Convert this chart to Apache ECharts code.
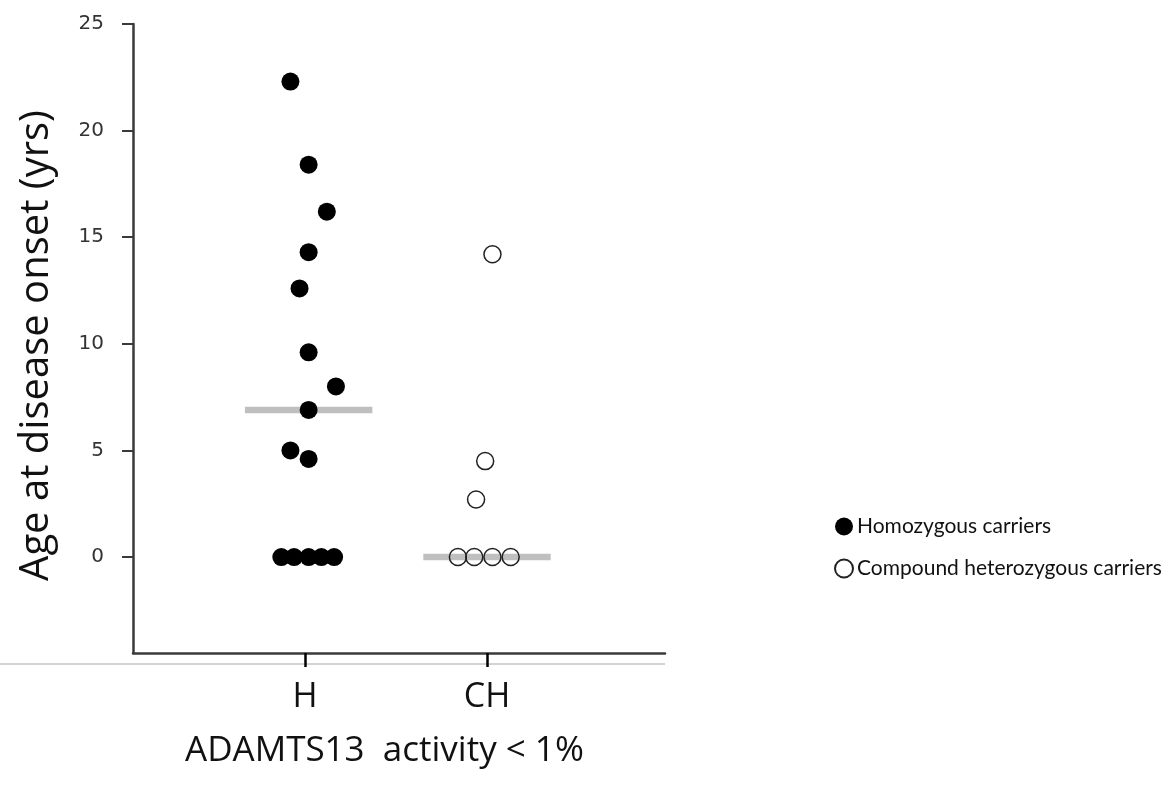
<!DOCTYPE html>
<html style="height: 100%">
  <head>
    <meta charset="utf-8">
  </head>
  <body style="height: 100%; margin: 0; background: #fff">
    <div id="container" style="width: 1170px; height: 794px"></div>
    <script src="https://cdn.jsdelivr.net/npm/echarts@6/dist/echarts.min.js"></script>
    <script type="text/javascript">
      // groups on the x axis
      let groups = ['H', 'CH'];
      let groupPos = [1, 2];

      // age at onset (yrs), and horizontal jitter of each dot
      let hAge = [22.3, 18.4, 16.2, 14.3, 12.6, 9.6, 8.0, 6.9, 5.0, 4.6, 0, 0, 0, 0, 0];
      let hJitter = [-0.08, 0.02, 0.12, 0.02, -0.03, 0.02, 0.17, 0.02, -0.08, 0.02, -0.13, -0.06, 0.02, 0.09, 0.16];
      let chAge = [14.2, 4.5, 2.7, 0, 0, 0, 0];
      let chJitter = [0.03, -0.01, -0.06, -0.16, -0.07, 0.03, 0.13];

      // group medians
      let medians = [6.9, 0];
      let medianHalfWidth = 0.35;
      let medianShift = [0.02, 0];

      let yTicks = [0, 5, 10, 15, 20, 25];

      let dom = document.getElementById('container');
      let myChart = echarts.init(dom);

      function points(ages, jitter, pos) {
        return ages.map(function (a, i) {
          return [pos + jitter[i], a];
        });
      }

      let medianSeries = medians.map(function (m, i) {
        let c = groupPos[i] + medianShift[i];
        return {
          type: 'line',
          data: [[c - medianHalfWidth, m], [c + medianHalfWidth, m]],
          symbol: 'none',
          lineStyle: { color: '#bfbfbf', width: 6.5 },
          silent: true,
          z: 1
        };
      });

      let option = {
        animation: false,
        grid: { left: 133, right: 505, top: 24, bottom: 141 },
        xAxis: {
          type: 'value',
          min: 0.055,
          max: 2.978,
          splitLine: { show: false },
          axisLine: { show: true, onZero: false, lineStyle: { color: '#3a3a3a', width: 2.5 } },
          axisTick: {
            show: true, inside: false, length: 14,
            customValues: groupPos,
            lineStyle: { color: '#000', width: 2.5 }
          },
          axisLabel: {
            customValues: groupPos,
            margin: 27,
            fontFamily: 'Open Sans',
            fontSize: 34,
            color: '#111',
            formatter: function (v) {
              let i = groupPos.indexOf(Math.round(v));
              return i >= 0 ? groups[i] : '';
            }
          }
        },
        yAxis: {
          type: 'value',
          min: -4.5,
          max: 25,
          splitLine: { show: false },
          axisLine: { show: true, onZero: false, lineStyle: { color: '#3a3a3a', width: 2.5 } },
          axisTick: {
            show: true, inside: false, length: 11,
            customValues: yTicks,
            lineStyle: { color: '#3a3a3a', width: 2 }
          },
          axisLabel: {
            customValues: yTicks,
            margin: 29,
            fontFamily: 'DejaVu Sans',
            fontSize: 20,
            color: '#333'
          },
          name: 'Age at disease onset (yrs)',
          nameLocation: 'middle',
          nameGap: 76,
          nameTextStyle: { fontFamily: 'Open Sans', fontSize: 40, color: '#111', padding: [0, 0, 0, -14] }
        },
        legend: {
          orient: 'vertical',
          left: 829,
          top: 511,
          itemWidth: 18,
          itemHeight: 18,
          itemGap: 21,
          icon: 'circle',
          data: ['Homozygous carriers', 'Compound heterozygous carriers'],
          textStyle: { fontFamily: 'Lato', fontSize: 21, color: '#111', padding: [0, 0, 0, -1] }
        },
        graphic: [
          {
            type: 'line',
            shape: { x1: 0, y1: 664, x2: 665, y2: 664 },
            style: { stroke: '#c4c4c4', lineWidth: 1.5 },
            z: 0
          },
          {
            type: 'text',
            left: 185,
            top: 734,
            style: {
              text: 'ADAMTS13  activity < 1%',
              font: '35px "Open Sans"',
              fill: '#111'
            }
          }
        ],
        series: medianSeries.concat([
          {
            name: 'Homozygous carriers',
            type: 'scatter',
            data: points(hAge, hJitter, groupPos[0]),
            symbol: 'circle',
            symbolSize: 18,
            itemStyle: { color: '#000', opacity: 1 },
            z: 3
          },
          {
            name: 'Compound heterozygous carriers',
            type: 'scatter',
            data: points(chAge, chJitter, groupPos[1]),
            symbol: 'circle',
            symbolSize: 17,
            itemStyle: { color: 'rgba(255,255,255,0)', borderColor: '#222', borderWidth: 1.5, opacity: 1 },
            z: 3
          }
        ])
      };

      myChart.setOption(option);
    </script>
  </body>
</html>
